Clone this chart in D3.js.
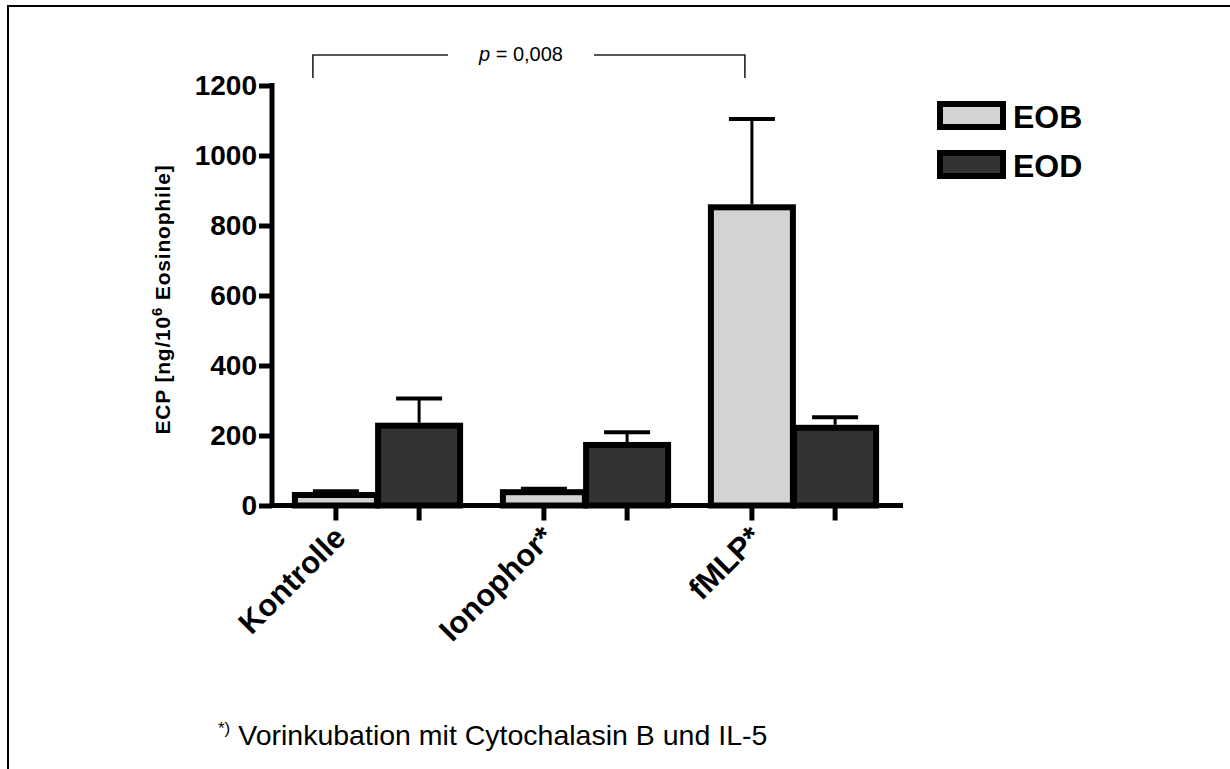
<!DOCTYPE html>
<html>
<head>
<meta charset="utf-8">
<script src="https://cdn.jsdelivr.net/npm/d3@7/dist/d3.min.js"></script>
<style>
  html, body { margin: 0; padding: 0; background: #fff; }
  svg { display: block; }
  text { font-family: "Liberation Sans", Arial, Helvetica, sans-serif; }
</style>
</head>
<body>
<svg id="chart" width="1230" height="769"></svg>
<script>
// ECP release (ng per 10^6 eosinophils), mean + SEM
const categories = ["Kontrolle", "Ionophor*", "fMLP*"];
const series = ["EOB", "EOD"];
const eobMean = [30, 38, 852];
const eobSem = [11, 10, 252];
const eodMean = [228, 173, 222];
const eodSem = [78, 36, 30];
const yTicks = [0, 200, 400, 600, 800, 1000, 1200];
const seriesColors = ["#d3d3d3", "#333333"];

const rows = categories.map((c, i) => ({
  category: c,
  values: [
    { key: "EOB", mean: eobMean[i], sem: eobSem[i] },
    { key: "EOD", mean: eodMean[i], sem: eodSem[i] }
  ]
}));

const svg = d3.select("#chart");

// outer frame
svg.append("path")
  .attr("d", "M8,769 L8,6 L1230,6")
  .attr("fill", "none")
  .attr("stroke", "#000")
  .attr("stroke-width", 2);

const x0 = 272, x1 = 903, yBase = 505.5, yTop = 85.5;

const y = d3.scaleLinear().domain([0, 1200]).range([yBase, yTop]);
const gx = d3.scaleBand().domain(categories).range([273.5, 897.5]).padding(0);
const bw = gx.bandwidth();
const sx = d3.scaleBand().domain(series).range([bw * 0.1, bw * 0.9]).padding(0);
const color = d3.scaleOrdinal().domain(series).range(seriesColors);

const barW = 82;

// bars
const groups = svg.append("g").selectAll("g").data(rows).join("g")
  .attr("transform", d => `translate(${gx(d.category)},0)`);

groups.selectAll("rect").data(d => d.values).join("rect")
  .attr("x", d => sx(d.key) + sx.bandwidth() / 2 - barW / 2)
  .attr("width", barW)
  .attr("y", d => y(d.mean))
  .attr("height", d => y(0) - y(d.mean))
  .attr("fill", d => color(d.key))
  .attr("stroke", "#000")
  .attr("stroke-width", 6);

// error bars (upper half only)
const err = groups.selectAll("g.err").data(d => d.values).join("g").attr("class", "err")
  .attr("transform", d => `translate(${sx(d.key) + sx.bandwidth() / 2},0)`);
err.append("line")
  .attr("x1", 0).attr("x2", 0)
  .attr("y1", d => y(d.mean) - 3)
  .attr("y2", d => y(d.mean + d.sem))
  .attr("stroke", "#000").attr("stroke-width", 3);
err.append("line")
  .attr("x1", -23).attr("x2", 23)
  .attr("y1", d => y(d.mean + d.sem))
  .attr("y2", d => y(d.mean + d.sem))
  .attr("stroke", "#000").attr("stroke-width", 4);

// y axis
const yAxis = d3.axisLeft(y).tickValues(yTicks).tickFormat(d3.format("d"))
  .tickSize(13).tickSizeOuter(0).tickPadding(2);
const ya = svg.append("g").attr("transform", `translate(${x0},0)`).call(yAxis);
ya.select(".domain").remove();
ya.selectAll(".tick line").attr("stroke", "#000").attr("stroke-width", 5);
ya.selectAll(".tick text")
  .attr("font-size", 28).attr("font-weight", "bold").attr("fill", "#000")
  .attr("font-family", "Liberation Sans, Arial, sans-serif");
svg.append("line")
  .attr("x1", x0).attr("x2", x0)
  .attr("y1", y(1200) - 2.5).attr("y2", yBase + 2.5)
  .attr("stroke", "#000").attr("stroke-width", 5);

// x axis line and ticks under each bar
svg.append("line")
  .attr("x1", x0 - 2.5).attr("x2", x1)
  .attr("y1", yBase).attr("y2", yBase)
  .attr("stroke", "#000").attr("stroke-width", 5);
groups.selectAll("line.xt").data(d => d.values).join("line").attr("class", "xt")
  .attr("x1", d => sx(d.key) + sx.bandwidth() / 2)
  .attr("x2", d => sx(d.key) + sx.bandwidth() / 2)
  .attr("y1", yBase).attr("y2", yBase + 15)
  .attr("stroke", "#000").attr("stroke-width", 5);

// category labels, rotated
svg.append("g").selectAll("text").data(categories).join("text")
  .attr("transform", d => `translate(${gx(d) + bw / 2 - 30},${yBase + 34}) rotate(-45)`)
  .attr("text-anchor", "end")
  .attr("font-size", 31).attr("font-weight", "bold")
  .text(d => d);

// y axis title
const yt = svg.append("text")
  .attr("transform", `translate(170,${(yTop + yBase) / 2 + 4}) rotate(-90)`)
  .attr("text-anchor", "middle")
  .attr("font-size", 21).attr("font-weight", "bold").attr("letter-spacing", 0.8);
yt.append("tspan").text("ECP [ng/10");
yt.append("tspan").attr("font-size", 15).attr("dy", -8).text("6");
yt.append("tspan").attr("dy", 8).text(" Eosinophile]");

// legend
const lg = svg.append("g").selectAll("g").data(series).join("g")
  .attr("transform", (d, i) => `translate(940,${104 + i * 49})`);
lg.append("rect")
  .attr("width", 63).attr("height", 23)
  .attr("fill", d => color(d)).attr("stroke", "#000").attr("stroke-width", 6);
lg.append("text")
  .attr("x", 73).attr("y", 24)
  .attr("font-size", 32).attr("font-weight", "bold")
  .text(d => d);

// significance bracket between Kontrolle/EOB and fMLP/EOB
const bx1 = gx("Kontrolle") + sx("EOB") + sx.bandwidth() / 2 - 23;
const bx2 = gx("fMLP*") + sx("EOB") + sx.bandwidth() / 2 - 7;
svg.append("path")
  .attr("d", `M${bx1},78 L${bx1},55 L448,55 M594,55 L${bx2},55 L${bx2},78`)
  .attr("fill", "none").attr("stroke", "#222").attr("stroke-width", 1.6);
const pt = svg.append("text")
  .attr("x", 521).attr("y", 61)
  .attr("text-anchor", "middle")
  .attr("font-size", 20);
pt.append("tspan").attr("font-style", "italic").text("p");
pt.append("tspan").text(" = 0,008");

// footnote
const fn = svg.append("text").attr("x", 218).attr("y", 745).attr("font-size", 28.5);
fn.append("tspan").attr("font-size", 17).attr("dy", -11).text("*)");
fn.append("tspan").attr("dy", 11).text(" Vorinkubation mit Cytochalasin B und IL-5");
</script>
</body>
</html>
